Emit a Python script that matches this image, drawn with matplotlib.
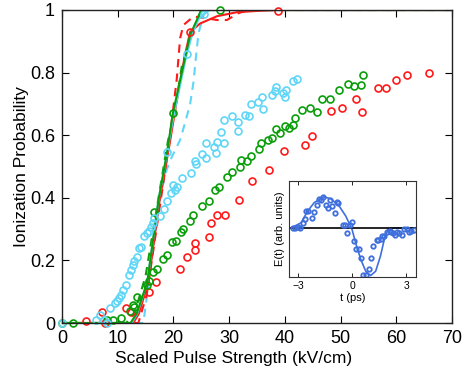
import matplotlib
matplotlib.use("Agg")
import matplotlib.pyplot as plt

plt.rcParams['font.family'] = ['Liberation Sans', 'DejaVu Sans']

RED = '#ff1a1a'
GREEN = '#0a9e0a'
CYAN = '#5fd6f7'
BLUE = '#3f6fdc'

# ---- theory curves (Scaled pulse strength kV/cm, ionization probability)
solid_green_x = [0, 12.3, 13.4, 15.3, 17.3, 18.9, 19.9, 22.0, 23.0, 25.0, 70]
solid_green_y = [0, 0, 0.03, 0.13, 0.39, 0.55, 0.67, 0.84, 0.92, 1.0, 1.0]
solid_cyan_x = [0, 12.5, 13.5, 15.3, 17.3, 18.9, 20.0, 22.4, 23.5, 24.5, 25.4, 26.5, 70]
solid_cyan_y = [0, 0, 0.03, 0.13, 0.39, 0.547, 0.66, 0.86, 0.93, 0.97, 0.987, 1.0, 1.0]
solid_red_x = [0, 12.8, 13.8, 15.5, 17.5, 19.3, 20.4, 22.0, 23.0, 24.8, 27.8, 31.4, 35.0, 38.7, 70]
solid_red_y = [0, 0, 0.03, 0.13, 0.39, 0.57, 0.69, 0.85, 0.93, 0.957, 0.98, 0.993, 0.997, 1.0, 1.0]
dashed_red_x = [0, 13.7, 15.2, 17.6, 19.3, 20.6, 21.2, 21.8, 23.6, 25.5, 27.8, 29.6, 31.7, 33.5, 70]
dashed_red_y = [0, 0, 0.09, 0.377, 0.585, 0.78, 0.91, 0.952, 0.979, 0.975, 0.968, 0.968, 0.99, 1.0, 1.0]
dashed_green_x = [0, 11.5, 13.0, 15.0, 17.6, 19.0, 20.3, 21.5, 22.9, 24.0, 25.0, 70]
dashed_green_y = [0, 0, 0.03, 0.15, 0.43, 0.58, 0.68, 0.82, 0.90, 0.96, 1.0, 1.0]
dashed_cyan_x = [0, 14.6, 15.5, 17.8, 18.8, 19.7, 21.2, 22.1, 23.0, 23.6, 24.1, 24.5, 25.4, 26.2, 70]
dashed_cyan_y = [0, 0, 0.12, 0.42, 0.49, 0.53, 0.585, 0.64, 0.70, 0.77, 0.86, 0.926, 0.984, 1.0, 1.0]

# markers on the solid curves
mk_green_x = [16.6, 19.9, 28.4]
mk_green_y = [0.356, 0.67, 1.0]
mk_cyan_x = [18.9, 22.4, 25.4]
mk_cyan_y = [0.547, 0.86, 0.987]
mk_red_x = [23.0, 38.7]
mk_red_y = [0.93, 0.996]

# ---- measured points
cyan_x = [0, 6.1, 6.8, 7.5, 8.0, 8.7, 9.6, 9.9, 10.3, 10.6, 11.0, 11.4, 12.1, 12.3, 12.7, 13.0,
          13.4, 13.9, 14.2, 14.7, 15.2, 15.6, 15.9, 16.3, 16.5, 17.6, 18.3, 18.8, 19.5, 20.0,
          20.3, 20.6, 21.6, 23.1, 23.8, 24.1, 25.1, 25.9, 25.9, 27.3, 27.6, 27.8, 29.0, 28.6,
          29.1, 30.6, 31.5, 31.5, 32.9, 33.5, 33.9, 35.2, 35.9, 36.0, 37.7, 38.2, 38.4, 39.6,
          40.1, 40.2, 41.4, 42.1]
cyan_y = [0, 0.008, 0.025, 0.01, 0.0, 0.048, 0.063, 0.071, 0.08, 0.089, 0.105, 0.122, 0.154,
          0.169, 0.185, 0.197, 0.212, 0.24, 0.244, 0.277, 0.287, 0.295, 0.308, 0.318, 0.337,
          0.342, 0.364, 0.391, 0.414, 0.441, 0.426, 0.433, 0.462, 0.48, 0.518, 0.507, 0.539,
          0.528, 0.576, 0.563, 0.542, 0.579, 0.576, 0.611, 0.649, 0.661, 0.641, 0.613, 0.665,
          0.661, 0.70, 0.707, 0.721, 0.683, 0.728, 0.742, 0.755, 0.736, 0.723, 0.746, 0.772, 0.78]

green_x = [0, 2.0, 8.1, 9.1, 10.5, 12.2, 12.7, 13.0, 13.5, 15.3, 15.6, 16.4, 17.1, 18.1, 18.8,
           19.7, 20.5, 21.4, 21.8, 23.0, 23.6, 25.2, 26.3, 27.4, 28.1, 29.6, 30.5, 32.0, 32.2,
           33.2, 34.0, 35.4, 35.7, 37.0, 37.7, 38.4, 39.1, 40.1, 40.7, 41.4, 41.8, 43.0, 44.5,
           45.8, 46.7, 48.1, 49.7, 51.3, 52.4, 53.6, 54.1]
green_y = [0, 0, 0.008, 0.008, 0.016, 0.039, 0.058, 0.052, 0.082, 0.122, 0.135, 0.163, 0.171,
           0.204, 0.218, 0.258, 0.261, 0.29, 0.30, 0.325, 0.346, 0.375, 0.391, 0.425, 0.435,
           0.465, 0.483, 0.50, 0.521, 0.518, 0.535, 0.556, 0.576, 0.585, 0.591, 0.621, 0.606,
           0.629, 0.624, 0.633, 0.655, 0.68, 0.687, 0.674, 0.715, 0.715, 0.745, 0.764, 0.757,
           0.761, 0.791]

red_x = [4.3, 7.1, 7.8, 11.5, 12.4, 15.6, 16.8, 21.1, 22.5, 23.9, 23.9, 26.3, 26.7, 27.8, 29.2,
         31.7, 34.1, 37.2, 39.8, 43.7, 44.8, 48.2, 50.3, 52.8, 53.9, 56.7, 58.1, 59.9, 61.9, 65.8]
red_y = [0.005, 0.034, 0.0, 0.048, 0.035, 0.098, 0.13, 0.174, 0.212, 0.233, 0.257, 0.274, 0.318,
         0.345, 0.345, 0.393, 0.455, 0.489, 0.548, 0.569, 0.596, 0.676, 0.688, 0.717, 0.673,
         0.751, 0.751, 0.776, 0.791, 0.80]

# ---- inset: THz field
fit_t = [-3.5, -3.39, -2.83, -2.47, -2.1, -1.58, -1.18, -0.72, -0.35, 0.0, 0.2, 0.48, 0.76,
         1.03, 1.31, 1.58, 1.77, 1.99, 2.2, 3.6]
fit_e = [0.0, 0.0, 0.11, 0.35, 0.53, 0.65, 0.61, 0.46, 0.25, -0.03, -0.31, -0.65, -0.9, -0.99,
         -0.9, -0.58, -0.27, -0.03, 0.0, 0.0]
pts_t = [-3.30, -3.15, -2.98, -2.87, -2.74, -2.62, -2.54, -2.43, -2.25, -2.10, -1.95, -1.86,
         -1.73, -1.62, -1.45, -1.31, -1.23, -1.10, -0.96, -0.86, -0.77, -0.53, -0.40, -0.29,
         -0.11, 0.02, 0.11, 0.24, 0.37, 0.48, 0.63, 0.76, 0.94, 1.03, 1.18, 1.36, 1.45, 1.58,
         1.67, 1.80, 1.95, 2.10, 2.17, 2.26, 2.38, 2.50, 2.63, 2.78, 2.91, 3.06, 3.15, 3.28, 3.43]
pts_e = [0.007, -0.007, 0.028, 0.007, 0.11, 0.18, 0.354, 0.361, 0.208, 0.333, 0.472, 0.611,
         0.583, 0.646, 0.472, 0.424, 0.576, 0.458, 0.306, 0.549, 0.528, 0.056, 0.056, -0.097,
         0.056, 0.132, -0.271, -0.431, -0.431, -0.618, -0.979, -0.979, -0.861, -0.618, -0.375,
         -0.25, -0.25, -0.222, -0.167, -0.167, -0.083, -0.063, -0.083, -0.111, -0.153, -0.083,
         -0.111, -0.146, -0.014, -0.028, -0.083, -0.063, -0.042]

fig = plt.figure(figsize=(4.72, 3.68), dpi=100)
ax = fig.add_axes([62/472, 1-323/368, 390/472, 313/368])

lw = 1.5
ax.plot(dashed_cyan_x, dashed_cyan_y, '--', color=CYAN, lw=lw, dashes=(4, 3))
ax.plot(dashed_green_x, dashed_green_y, '--', color=GREEN, lw=lw, dashes=(4, 3))
ax.plot(dashed_red_x, dashed_red_y, '--', color=RED, lw=lw, dashes=(4, 3))
ax.plot(solid_red_x, solid_red_y, '-', color=RED, lw=lw)
ax.plot(solid_cyan_x, solid_cyan_y, '-', color=CYAN, lw=lw)
ax.plot(solid_green_x, solid_green_y, '-', color=GREEN, lw=lw)

mk = dict(marker='o', ls='none', mfc='none', ms=5, mew=1.2, clip_on=False)
ax.plot(mk_red_x, mk_red_y, color=RED, **mk)
ax.plot(mk_cyan_x, mk_cyan_y, color=CYAN, **mk)
ax.plot(mk_green_x, mk_green_y, color=GREEN, **mk)
ax.plot(red_x, red_y, color=RED, **mk)
ax.plot(green_x, green_y, color=GREEN, **mk)
ax.plot(cyan_x, cyan_y, color=CYAN, **mk)

ax.set_xlim(0, 70)
ax.set_ylim(0, 1)
ax.set_xticks(range(0, 71, 10))
ax.set_yticks([0, 0.2, 0.4, 0.6, 0.8, 1])
ax.set_yticklabels(['0', '0.2', '0.4', '0.6', '0.8', '1'])
ax.tick_params(direction='in', top=True, right=True, labelsize=13, length=5, width=0.8, pad=5)
ax.set_xlabel('Scaled Pulse Strength (kV/cm)', fontsize=12.5)
ax.set_ylabel('Ionization Probability', fontsize=12.5)
ax.xaxis.set_label_coords(0.44, -0.089)
ax.yaxis.set_label_coords(-0.085, 0.5)
for s in ax.spines.values():
    s.set_linewidth(1.0)
    s.set_color('#222222')

# inset
ins = fig.add_axes([289/472, 1-277/368, 127/472, 96/368])
ins.plot(fit_t, fit_e, '-', color=BLUE, lw=1.2)
ins.axhline(0, color='black', lw=1.2)
ins.plot(pts_t, pts_e, 'o', color=BLUE, mfc='none', ms=3.2, mew=1.3, ls='none')
ins.set_xlim(-3.5, 3.55)
ins.set_ylim(-1.02, 0.98)
ins.set_xticks([-3, 0, 3])
ins.set_yticks([])
ins.tick_params(direction='in', top=True, labelsize=7.5, length=3, width=0.6, pad=3)
ins.set_xlabel('t (ps)', fontsize=8, labelpad=1)
ins.set_ylabel('E(t) (arb. units)', fontsize=8, labelpad=3)
for s in ins.spines.values():
    s.set_linewidth(0.8)
    s.set_color('#333333')

fig.savefig('out.png', dpi=100)
